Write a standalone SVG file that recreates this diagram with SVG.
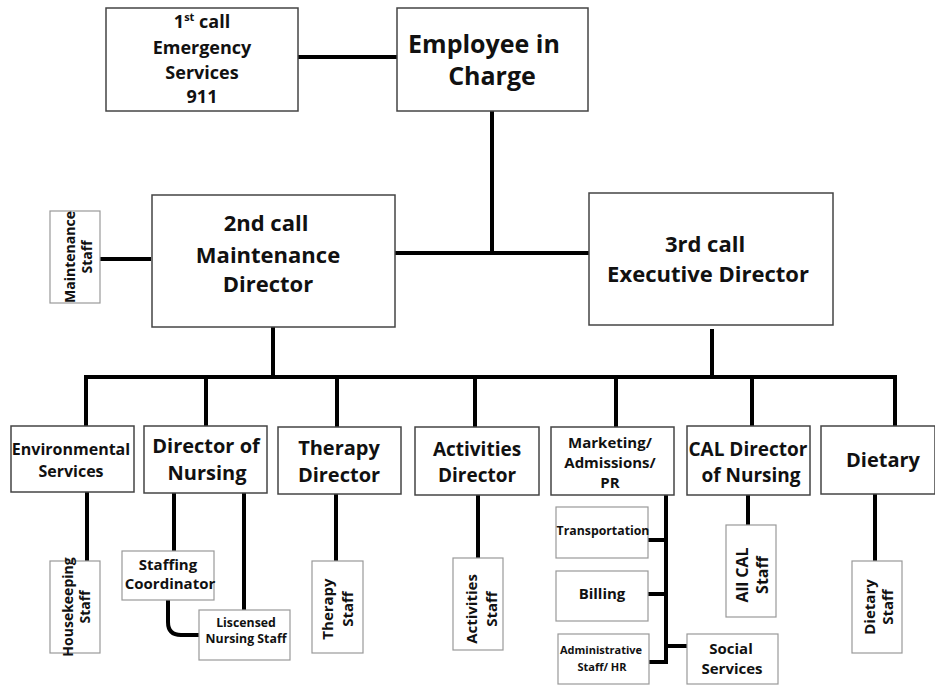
<svg xmlns="http://www.w3.org/2000/svg" width="935" height="686" viewBox="0 0 935 686">
<style>
text{font-family:"Open Sans","Liberation Sans",sans-serif;font-weight:700;fill:#111;text-anchor:middle}
.box{fill:#fff;stroke:#444;stroke-width:1.5}
.sbox{fill:#fff;stroke:#999;stroke-width:1.2}
.ln{fill:none;stroke:#000;stroke-width:4;stroke-linejoin:miter}
.f25{font-size:25px}.f22{font-size:22px}.f20{font-size:20px}.f19{font-size:19px}.f18{font-size:18px}.f16{font-size:16px}.f15{font-size:15px}.f14{font-size:14px}.f12{font-size:12.3px}.f11{font-size:11px}
</style>
<rect width="935" height="686" fill="#fff"/>
<g id="connectors">
<path class="ln" d="M298,57H397"/>
<path class="ln" d="M492,111V253"/>
<path class="ln" d="M395,253H589"/>
<path class="ln" d="M100,259H151"/>
<path class="ln" d="M273,327V377"/>
<path class="ln" d="M712,329V377"/>
<path class="ln" d="M86,426V377H895V426"/>
<path class="ln" d="M206,377V426"/>
<path class="ln" d="M337,377V427"/>
<path class="ln" d="M475,377V427"/>
<path class="ln" d="M616,377V427"/>
<path class="ln" d="M752,377V426"/>
<path class="ln" d="M87,492V561"/>
<path class="ln" d="M174,493V551"/>
<path class="ln" d="M244,493V610"/>
<path class="ln" d="M168,600V622Q168,635 181,635H199"/>
<path class="ln" d="M336,494V561"/>
<path class="ln" d="M478,495V558"/>
<path class="ln" d="M666,495V664"/>
<path class="ln" d="M648,540H666"/>
<path class="ln" d="M648,594H666"/>
<path class="ln" d="M649,662H666"/>
<path class="ln" d="M666,646H687"/>
<path class="ln" d="M748,495V525"/>
<path class="ln" d="M875,494V561"/>
</g>
<g id="n-emergency"><rect class="box" x="106" y="8" width="192" height="103"/>
<text class="f18" x="202" y="28">1<tspan font-size="11" dy="-7">st</tspan><tspan dy="7"> call</tspan></text>
<text class="f18" x="202" y="54">Emergency</text><text class="f18" x="202" y="79">Services</text><text class="f18" x="202" y="103">911</text></g>
<g id="n-employee"><rect class="box" x="397" y="8" width="191" height="103"/>
<text class="f25" x="484" y="53">Employee in</text><text class="f25" x="492" y="85">Charge</text></g>
<g id="n-maint-staff"><rect class="sbox" x="50" y="211" width="50" height="92"/>
<text class="f14" transform="translate(75,257) rotate(-90)"><tspan x="0" y="0">Maintenance</tspan><tspan x="0" y="17">Staff</tspan></text></g>
<g id="n-maint-dir"><rect class="box" x="152" y="195" width="243" height="132"/>
<text class="f22" x="266" y="231">2nd call</text><text class="f22" x="268" y="263">Maintenance</text><text class="f22" x="268" y="292">Director</text></g>
<g id="n-exec-dir"><rect class="box" x="589" y="193" width="244" height="132"/>
<text class="f22" x="705" y="252">3rd call</text><text class="f22" x="708" y="282">Executive Director</text></g>
<g id="n-env"><rect class="box" x="11" y="426" width="123" height="66"/>
<text class="f16" x="71" y="455">Environmental</text><text class="f16" x="71" y="477">Services</text></g>
<g id="n-don"><rect class="box" x="144" y="426" width="123" height="67"/>
<text class="f20" x="206" y="453">Director of</text><text class="f20" x="207" y="480">Nursing</text></g>
<g id="n-therapy"><rect class="box" x="278" y="427" width="123" height="67"/>
<text class="f20" x="339" y="455">Therapy</text><text class="f20" x="339" y="482">Director</text></g>
<g id="n-activities"><rect class="box" x="415" y="427" width="124" height="68"/>
<text class="f19" x="477" y="456">Activities</text><text class="f19" x="477" y="482">Director</text></g>
<g id="n-marketing"><rect class="box" x="551" y="427" width="123" height="68"/>
<text class="f15" x="610" y="448">Marketing/</text><text class="f15" x="610" y="468">Admissions/</text><text class="f15" x="610" y="488">PR</text></g>
<g id="n-cal"><rect class="box" x="687" y="426" width="123" height="69"/>
<text class="f19" x="748" y="456">CAL Director</text><text class="f19" x="751" y="482">of Nursing</text></g>
<g id="n-dietary"><rect class="box" x="821" y="426" width="114" height="68"/>
<text class="f20" x="883" y="467">Dietary</text></g>
<g id="n-housekeeping"><rect class="sbox" x="50" y="561" width="50" height="92"/>
<text class="f14" transform="translate(73,607) rotate(-90)"><tspan x="0" y="0">Housekeeping</tspan><tspan x="0" y="17">Staff</tspan></text></g>
<g id="n-staffing"><rect class="sbox" x="122" y="551" width="92" height="49"/>
<text class="f15" x="168" y="570">Staffing</text><text class="f15" x="170" y="589">Coordinator</text></g>
<g id="n-licensed"><rect class="sbox" x="199" y="610" width="91" height="50"/>
<text class="f12" x="246" y="627">Liscensed</text><text class="f12" x="246" y="643">Nursing Staff</text></g>
<g id="n-therapy-staff"><rect class="sbox" x="312" y="561" width="51" height="92"/>
<text class="f15" transform="translate(333,609) rotate(-90)"><tspan x="0" y="0">Therapy</tspan><tspan x="0" y="20">Staff</tspan></text></g>
<g id="n-activities-staff"><rect class="sbox" x="453" y="558" width="50" height="92"/>
<text class="f15" transform="translate(477,609) rotate(-90)"><tspan x="0" y="0">Activities</tspan><tspan x="0" y="20">Staff</tspan></text></g>
<g id="n-transport"><rect class="sbox" x="556" y="507" width="92" height="51"/>
<text class="f12" x="603" y="535">Transportation</text></g>
<g id="n-billing"><rect class="sbox" x="556" y="571" width="92" height="50"/>
<text class="f15" x="602" y="599">Billing</text></g>
<g id="n-admin"><rect class="sbox" x="558" y="634" width="91" height="50"/>
<text class="f11" x="601" y="654">Administrative</text><text class="f11" x="602" y="671">Staff/ HR</text></g>
<g id="n-social"><rect class="sbox" x="687" y="634" width="91" height="50"/>
<text class="f15" x="731" y="654">Social</text><text class="f15" x="732" y="674">Services</text></g>
<g id="n-cal-staff"><rect class="sbox" x="726" y="525" width="50" height="92"/>
<text class="f16" transform="translate(748,575) rotate(-90)"><tspan x="0" y="0">All CAL</tspan><tspan x="0" y="20">Staff</tspan></text></g>
<g id="n-dietary-staff"><rect class="sbox" x="852" y="561" width="50" height="92"/>
<text class="f15" transform="translate(875,607) rotate(-90)"><tspan x="0" y="0">Dietary</tspan><tspan x="0" y="18">Staff</tspan></text></g>
</svg>
